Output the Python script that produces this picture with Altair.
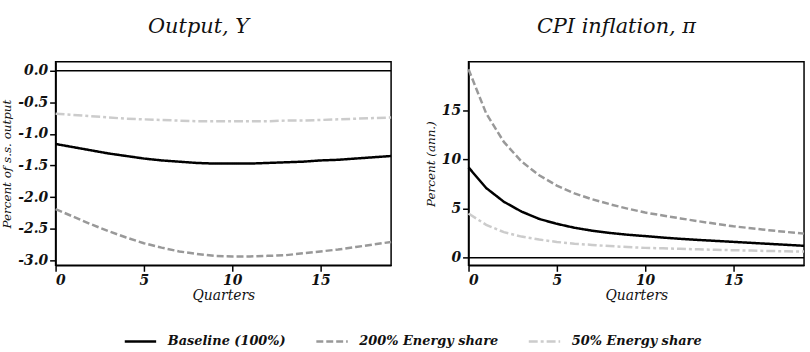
import altair as alt
import pandas as pd

quarters = list(range(20))
series_names = ["Baseline (100%)", "200% Energy share", "50% Energy share"]

out_base = [-1.16, -1.21, -1.26, -1.31, -1.35, -1.39, -1.42, -1.44, -1.46, -1.47,
            -1.47, -1.47, -1.46, -1.45, -1.44, -1.42, -1.41, -1.39, -1.37, -1.35]
out_200 = [-2.19, -2.31, -2.43, -2.54, -2.64, -2.73, -2.80, -2.86, -2.90, -2.93,
           -2.94, -2.94, -2.93, -2.92, -2.89, -2.86, -2.83, -2.79, -2.75, -2.71]
out_50 = [-0.68, -0.70, -0.72, -0.74, -0.76, -0.77, -0.78, -0.79, -0.80, -0.80,
          -0.80, -0.80, -0.80, -0.79, -0.79, -0.78, -0.77, -0.76, -0.75, -0.74]

cpi_base = [9.2, 7.1, 5.7, 4.7, 3.95, 3.45, 3.05, 2.75, 2.52, 2.34,
            2.2, 2.05, 1.92, 1.81, 1.71, 1.61, 1.51, 1.41, 1.31, 1.21]
cpi_200 = [19.2, 14.7, 11.8, 9.8, 8.4, 7.35, 6.55, 5.95, 5.45, 5.0,
           4.6, 4.3, 4.0, 3.72, 3.45, 3.2, 3.0, 2.8, 2.62, 2.45]
cpi_50 = [4.5, 3.35, 2.6, 2.15, 1.85, 1.6, 1.43, 1.3, 1.18, 1.08,
          1.0, 0.95, 0.9, 0.85, 0.8, 0.76, 0.72, 0.68, 0.65, 0.62]

out_ticks = [0.0, -0.5, -1.0, -1.5, -2.0, -2.5, -3.0]
cpi_ticks = [0, 5, 10, 15]
x_ticks = [0, 5, 10, 15]

FONT = "DejaVu Serif"


def make_df(vals_list):
    rows = []
    for name, vals in zip(series_names, vals_list):
        for q, v in zip(quarters, vals):
            rows.append({"Quarter": q, "Value": v, "Series": name})
    return pd.DataFrame(rows)


df_out = make_df([out_base, out_200, out_50])
df_cpi = make_df([cpi_base, cpi_200, cpi_50])

color_scale = alt.Scale(domain=series_names, range=["#000000", "#999999", "#cccccc"])
dash_scale = alt.Scale(domain=series_names, range=[[1, 0], [7, 3], [9, 3, 3, 3]])

legend = alt.Legend(
    title=None, orient="none", direction="horizontal", legendX=68, legendY=264,
    symbolType="stroke", symbolStrokeWidth=2.5, symbolSize=1000,
    labelFont=FONT, labelFontStyle="italic", labelFontWeight="bold", labelFontSize=13,
    labelColor="#111", columnPadding=25, symbolOffset=0, labelOffset=10,
)


def panel(df, title, ytitle, ydomain, yticks, ylabel_expr, title_dx):
    xscale = alt.Scale(domain=[0, 19], nice=False, zero=False)
    yscale = alt.Scale(domain=ydomain, nice=False, zero=False)
    xaxis = alt.Axis(values=x_ticks, title="Quarters", grid=False, format="d")
    yaxis = alt.Axis(values=yticks, title=ytitle, grid=False, labelExpr=ylabel_expr,
                     labelOverlap=False)
    lines = alt.Chart(df).mark_line(strokeWidth=2.5, strokeCap="butt").encode(
        x=alt.X("Quarter:Q", scale=xscale, axis=xaxis),
        y=alt.Y("Value:Q", scale=yscale, axis=yaxis),
        color=alt.Color("Series:N", scale=color_scale, legend=legend, sort=series_names),
        strokeDash=alt.StrokeDash("Series:N", scale=dash_scale, legend=legend, sort=series_names),
    )
    zero = alt.Chart(pd.DataFrame({"Value": [0]})).mark_rule(color="black", strokeWidth=1.5).encode(
        y=alt.Y("Value:Q", scale=yscale, axis=yaxis)
    )
    return alt.layer(lines, zero).properties(
        width=338, height=205,
        title=alt.TitleParams(title, font=FONT, fontStyle="italic", fontWeight="normal",
                              fontSize=21, color="#111", offset=25, dx=title_dx),
    )


left = panel(df_out, "Output, Y", "Percent of s.s. output", [-3.08, 0.14], out_ticks,
             "(datum.value < 0 ? '-' : '') + format(abs(datum.value), '.1f')", -25)
right = panel(df_cpi, "CPI inflation, π", "Percent (ann.)", [-0.78, 19.96], cpi_ticks,
              "format(datum.value, 'd')", -20)

chart = alt.hconcat(left, right, spacing=26).resolve_scale(
    color="shared", strokeDash="shared"
).properties(
    padding={"left": 0, "top": 14, "right": 0, "bottom": 0},
    background="white",
).configure_view(
    stroke="black", strokeWidth=1.5
).configure_axis(
    labelFont=FONT, labelFontStyle="italic", labelFontWeight="bold", labelFontSize=14,
    labelColor="#111", titleFont=FONT, titleFontStyle="italic", titleFontWeight="normal",
    titleColor="#111", domainColor="black", domainWidth=1.5, tickColor="black",
    tickWidth=1.5, tickSize=6, labelPadding=2,
).configure_axisX(
    titleFontSize=14, titlePadding=1, labelAngle=0,
).configure_axisY(
    titleFontSize=12, titlePadding=4,
)

chart.save("out.html", embed_options={"renderer": "svg", "actions": False})
